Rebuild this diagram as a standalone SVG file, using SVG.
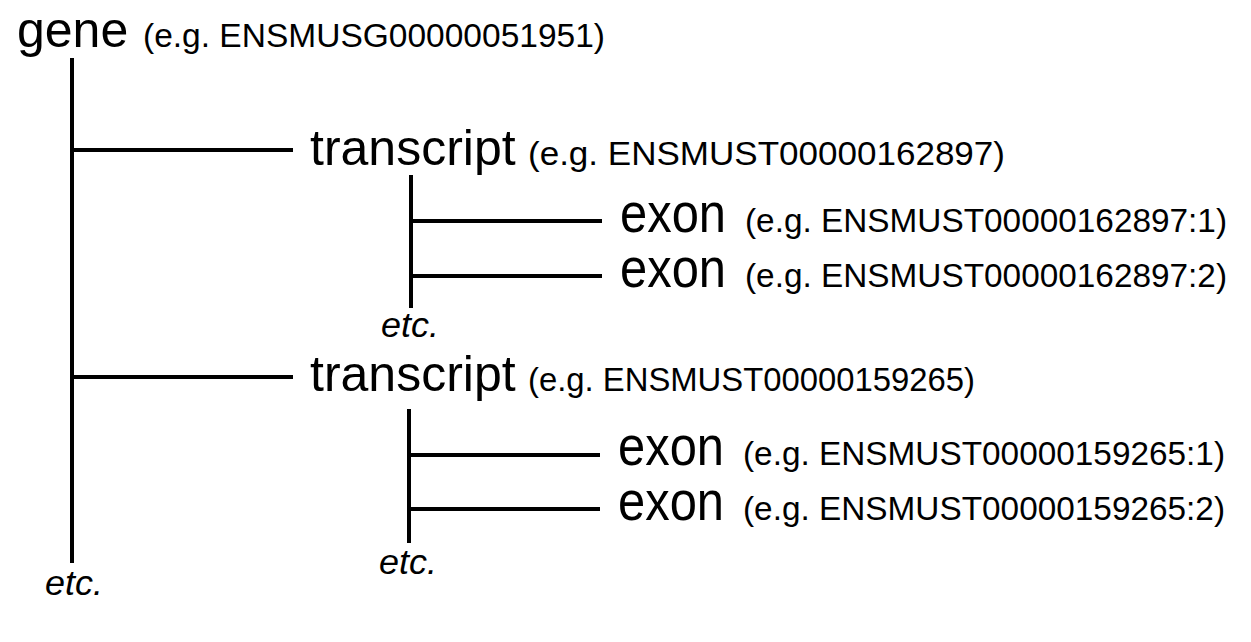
<svg xmlns="http://www.w3.org/2000/svg" width="1251" height="642" viewBox="0 0 1251 642">
<style>
.big{font-family:"Liberation Sans",Arial,sans-serif;font-size:50px;fill:#000}
.ex{font-family:"Liberation Sans",Arial,sans-serif;font-size:55px;fill:#000}
.sm{font-family:"Liberation Sans",Arial,sans-serif;font-size:34px;fill:#000}
.etc{font-family:"Liberation Sans",Arial,sans-serif;font-size:35px;font-style:italic;fill:#000}
.ln{stroke:#000;stroke-width:4;fill:none}
</style>
<rect width="1251" height="642" fill="#fff"/>
<g id="connectors">
<line class="ln" x1="72" y1="58" x2="72" y2="563"/>
<line class="ln" x1="72" y1="150" x2="293" y2="150"/>
<line class="ln" x1="72" y1="377" x2="293" y2="377"/>
<line class="ln" x1="411" y1="175" x2="411" y2="308"/>
<line class="ln" x1="411" y1="221" x2="602" y2="221"/>
<line class="ln" x1="411" y1="276" x2="602" y2="276"/>
<line class="ln" x1="409" y1="409" x2="409" y2="543"/>
<line class="ln" x1="409" y1="455" x2="600" y2="455"/>
<line class="ln" x1="409" y1="509" x2="600" y2="509"/>
</g>
<g id="gene">
<text class="big" x="17" y="47">gene</text>
<text class="sm" x="143" y="47" textLength="462" lengthAdjust="spacingAndGlyphs">(e.g. ENSMUSG00000051951)</text>
<text class="etc" x="45" y="595" textLength="58" lengthAdjust="spacingAndGlyphs">etc.</text>
</g>
<g id="transcript1">
<text class="big" x="310" y="165">transcript</text>
<text class="sm" x="528" y="165" textLength="477" lengthAdjust="spacingAndGlyphs">(e.g. ENSMUST00000162897)</text>
<text class="etc" x="381" y="337" textLength="58" lengthAdjust="spacingAndGlyphs">etc.</text>
</g>
<g id="exon1">
<text class="ex" x="620" y="232" textLength="106" lengthAdjust="spacingAndGlyphs">exon</text>
<text class="sm" x="745" y="232" textLength="482" lengthAdjust="spacingAndGlyphs">(e.g. ENSMUST00000162897:1)</text>
</g>
<g id="exon2">
<text class="ex" x="620" y="287" textLength="106" lengthAdjust="spacingAndGlyphs">exon</text>
<text class="sm" x="745" y="287" textLength="482" lengthAdjust="spacingAndGlyphs">(e.g. ENSMUST00000162897:2)</text>
</g>
<g id="transcript2">
<text class="big" x="310" y="391">transcript</text>
<text class="sm" x="528" y="391" textLength="447" lengthAdjust="spacingAndGlyphs">(e.g. ENSMUST00000159265)</text>
<text class="etc" x="379" y="574" textLength="58" lengthAdjust="spacingAndGlyphs">etc.</text>
</g>
<g id="exon3">
<text class="ex" x="618" y="465" textLength="106" lengthAdjust="spacingAndGlyphs">exon</text>
<text class="sm" x="743" y="465" textLength="482" lengthAdjust="spacingAndGlyphs">(e.g. ENSMUST00000159265:1)</text>
</g>
<g id="exon4">
<text class="ex" x="618" y="520" textLength="106" lengthAdjust="spacingAndGlyphs">exon</text>
<text class="sm" x="743" y="520" textLength="482" lengthAdjust="spacingAndGlyphs">(e.g. ENSMUST00000159265:2)</text>
</g>
</svg>
